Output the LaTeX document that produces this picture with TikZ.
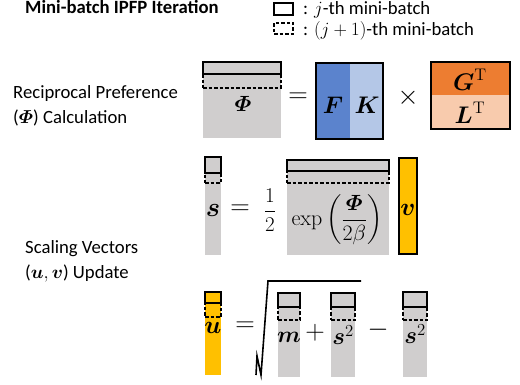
\RequirePackage{fix-cm}
\documentclass[tikz,border=0pt]{standalone}
\usepackage{amsmath}
\usepackage[no-math]{fontspec}
\setsansfont{Carlito}
\usepackage{tikz}
\usetikzlibrary{positioning, calc}
\definecolor{matgray}{RGB}{208,206,206}
\definecolor{fblue}{RGB}{91,131,205}
\definecolor{kblue}{RGB}{180,199,231}
\definecolor{gorange}{RGB}{237,125,49}
\definecolor{lorange}{RGB}{248,203,173}
\definecolor{vyellow}{RGB}{255,192,0}
\newcommand{\Vc}[1]{\boldsymbol{#1}}
\tikzset{
    mat/.style={rectangle, inner sep=0pt, outer sep=0pt, anchor=north west},
    wh/.style 2 args={minimum width=#1, minimum height=#2},
    batch/.style={mat, draw, line width=1.6pt},
    nextbatch/.style={batch, dash pattern=on 3.5pt off 2pt},
    op/.style={font=\fontsize{27}{30}\selectfont},
    sym/.style={font=\fontsize{24}{28}\selectfont},
    desc/.style={font=\sffamily\fontsize{18.7}{25}\selectfont, align=left, anchor=west, inner sep=0pt},
    legtext/.style={desc, anchor=base west, text height=12pt, text depth=3pt},
}

\begin{document}
\begin{tikzpicture}[x=1pt, y=-1pt]
    \useasboundingbox (0,0) rectangle (520,385);

    % legend
    \node[legtext, font=\sffamily\bfseries\fontsize{18.7}{25}\selectfont] (title) at (25,14) {Mini-batch IPFP Iteration};
    \node[batch, wh={19}{12}] (legj) at (274,3) {};
    \node[nextbatch, wh={19}{11}] (legnext) at (274,23) {};
    \node[legtext] (legjtext) at (303,15) {:\hspace{6pt}$j$-th mini-batch};
    \node[legtext] (legnexttext) at (303,36) {:\hspace{6pt}$(j+1)$-th mini-batch};

    % reciprocal preference
    \node[desc] (phitext) at (13,106) {Reciprocal Preference\\($\Vc{\varPhi}$) Calculation};
    \node[mat, wh={78}{76}, fill=matgray] (phi) at (203,62) {};
    \node[batch, wh={78}{12}, fill=matgray] (phirow) at (203,62) {};
    \node[nextbatch, wh={78}{14}] (phinext) at (203,74) {};
    \node[sym, font=\fontsize{22}{26}\selectfont] (philabel) at (243,104) {$\Vc{\varPhi}$};
    \node[op] (eqphi) at (298,98) {$=$};
    \node[mat, wh={34}{76}, fill=fblue] (f) at (316,63) {};
    \node[mat, wh={33}{76}, fill=kblue] (k) at (350,63) {};
    \draw[line width=1.6pt] (f.north west) rectangle (k.south east);
    \node[sym] (flabel) at (333,105) {$\Vc{F}$};
    \node[sym] (klabel) at (367,105) {$\Vc{K}$};
    \node[op] (times) at (408,98) {$\times$};
    \node[mat, wh={79}{33}, fill=gorange] (g) at (431,62) {};
    \node[mat, wh={79}{34}, fill=lorange] (l) at (431,95) {};
    \draw[line width=1.6pt] (g.north west) rectangle (l.south east);
    \node[sym] (glabel) at (470,80) {$\Vc{G}^{\mathrm{T}}$};
    \node[sym] (llabel) at (470,113) {$\Vc{L}^{\mathrm{T}}$};

    % scaling vectors
    \node[desc] (uvtext) at (25,261) {Scaling Vectors\\($\Vc{u},\Vc{v}$) Update};
    \node[mat, wh={16}{98}, fill=matgray] (s) at (205,157) {};
    \node[batch, wh={16}{16}, fill=matgray] (srow) at (205,157) {};
    \node[nextbatch, wh={16}{10}] (snext) at (205,173) {};
    \node[sym, font=\fontsize{27}{30}\selectfont] (slabel) at (213,211) {$\Vc{s}$};
    \node[op] (eqs) at (240,210) {$=$};
    \node[font=\fontsize{21}{24}\selectfont] (half) at (270,210) {$\dfrac{1}{2}$};
    \node[mat, wh={102}{95}, fill=matgray] (expblk) at (287,160) {};
    \node[batch, wh={102}{11}, fill=matgray] (exprow) at (287,160) {};
    \node[nextbatch, wh={102}{12}] (expnext) at (287,171) {};
    \node[font=\fontsize{22}{26}\selectfont] (explabel) at (337,220) {$\exp\left(\dfrac{\Vc{\varPhi}}{2\beta}\right)$};
    \node[mat, wh={18}{96}, fill=vyellow, draw, line width=1.6pt] (v) at (399,158) {};
    \node[sym, font=\fontsize{25}{28}\selectfont] (vlabel) at (408,210) {$\Vc{v}$};

    \node[mat, wh={16}{83}, fill=vyellow] (u) at (205,292) {};
    \node[batch, wh={16}{11}, fill=vyellow] (urow) at (205,292) {};
    \node[nextbatch, wh={16}{14}] (unext) at (205,303) {};
    \node[sym, font=\fontsize{25}{28}\selectfont] (ulabel) at (213,328) {$\Vc{u}$};
    \node[op] (equ) at (245,327) {$=$};
    \draw[line width=1.6pt, line join=miter] (256,375) -- (257,356) -- (261,375) -- (268,281) -- (361,281);
    \node[mat, wh={22}{84}, fill=matgray] (m) at (278,293) {};
    \node[batch, wh={22}{14}, fill=matgray] (mrow) at (278,293) {};
    \node[nextbatch, wh={22}{13}] (mnext) at (278,307) {};
    \node[sym, font=\fontsize{23}{26}\selectfont] (mlabel) at (289,337) {$\Vc{m}$};
    \node[op] (plus) at (315,333) {$+$};
    \node[mat, wh={24}{84}, fill=matgray] (sqa) at (331,293) {};
    \node[batch, wh={24}{14}, fill=matgray] (sqarow) at (331,293) {};
    \node[nextbatch, wh={24}{13}] (sqanext) at (331,307) {};
    \node[sym] (sqalabel) at (343,335) {$\Vc{s}^2$};
    \node[op] (minus) at (378,330) {$-$};
    \node[mat, wh={24}{85}, fill=matgray] (sqb) at (403,292) {};
    \node[batch, wh={24}{15}, fill=matgray] (sqbrow) at (403,292) {};
    \node[nextbatch, wh={24}{13}] (sqbnext) at (403,307) {};
    \node[sym] (sqblabel) at (415,334) {$\Vc{s}^2$};
\end{tikzpicture}
\end{document}
